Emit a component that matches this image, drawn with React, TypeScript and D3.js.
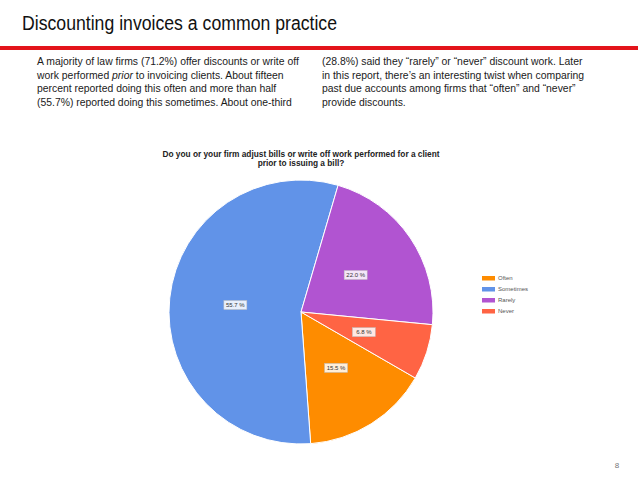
import { useEffect, useRef } from "react"
import * as d3 from "d3"

const categories = ["Often", "Sometimes", "Rarely", "Never"]
const values = [15.5, 55.7, 22.0, 6.8]
const colors = ["#fe8c00", "#6193e8", "#b154d1", "#ff6444"]

const leftLines = [
    "A majority of law firms (71.2%) offer discounts or write off",
    "work performed |prior| to invoicing clients. About fifteen",
    "percent reported doing this often and more than half",
    "(55.7%) reported doing this sometimes. About one-third",
]
const rightLines = [
    "(28.8%) said they \u201crarely\u201d or \u201cnever\u201d discount work.  Later",
    "in this report, there\u2019s an interesting twist when comparing",
    "past due accounts among firms that \u201coften\u201d and \u201cnever\u201d",
    "provide discounts.",
]
const chartTitle = [
    "Do you or your firm adjust bills or write off work performed for a client",
    "prior to issuing a bill?",
]

const App = () => {
    const svgRef = useRef<SVGSVGElement>(null)
    const width = 638
    const height = 479

    useEffect(() => {
        const svg = d3.select(svgRef.current)
        svg.selectAll("*").remove()
        const font = "'Liberation Sans', Arial, sans-serif"

        svg.append("rect").attr("width", width).attr("height", height).attr("fill", "#fff")

        // slide title + red rule
        svg.append("text")
            .attr("x", 22).attr("y", 30)
            .attr("font-family", font).attr("font-size", 19.5)
            .attr("textLength", 315).attr("lengthAdjust", "spacingAndGlyphs")
            .attr("fill", "#111")
            .text("Discounting invoices a common practice")
        svg.append("rect").attr("x", 0).attr("y", 46).attr("width", width).attr("height", 4).attr("fill", "#e3141b")

        // body text columns
        const body = (lines: string[], x: number) => {
            lines.forEach((ln, i) => {
                const t = svg.append("text")
                    .attr("x", x).attr("y", 65 + i * 13.6)
                    .attr("font-family", font).attr("font-size", 10.4)
                    .attr("fill", "#1a1a1a")
                ln.split("|").forEach((part, j) => {
                    t.append("tspan").attr("font-style", j % 2 ? "italic" : "normal").text(part)
                })
            })
        }
        body(leftLines, 37)
        body(rightLines, 322)

        // chart title
        chartTitle.forEach((ln, i) => {
            svg.append("text")
                .attr("x", 301).attr("y", 156.5 + i * 9.5)
                .attr("text-anchor", "middle")
                .attr("font-family", font).attr("font-size", 8.3).attr("font-weight", "bold")
                .attr("fill", "#222")
                .text(ln)
        })

        // pie
        const cx = 301, cy = 312, r = 132
        const startA = (120 * Math.PI) / 180
        const pie = d3.pie<number>().sort(null).startAngle(startA).endAngle(startA + 2 * Math.PI)
        const arcs = pie(values)
        const arc = d3.arc<d3.PieArcDatum<number>>().innerRadius(0).outerRadius(r)
        const labelArc = d3.arc<d3.PieArcDatum<number>>().innerRadius(r * 0.5).outerRadius(r * 0.5)

        const g = svg.append("g").attr("transform", `translate(${cx},${cy})`)
        g.selectAll("path").data(arcs).join("path")
            .attr("d", arc)
            .attr("fill", (_, i) => colors[i])
            .attr("stroke", "#fff").attr("stroke-width", 1)

        arcs.forEach((a) => {
            const [lx, ly] = labelArc.centroid(a)
            const lg = g.append("g").attr("transform", `translate(${lx},${ly})`)
            const label = `${a.data.toFixed(1)} %`
            lg.append("rect")
                .attr("x", -11.5).attr("y", -4.5).attr("width", 23).attr("height", 9)
                .attr("fill", "#fff").attr("fill-opacity", 0.85)
                .attr("stroke", "#bbb").attr("stroke-width", 0.5)
            lg.append("text")
                .attr("text-anchor", "middle").attr("dy", "0.35em")
                .attr("font-family", font).attr("font-size", 6)
                .attr("fill", "#333")
                .text(label)
        })

        // legend
        const legend = svg.append("g").attr("transform", "translate(482,278)")
        categories.forEach((c, i) => {
            const row = legend.append("g").attr("transform", `translate(0,${i * 11})`)
            row.append("rect").attr("x", 0).attr("y", -2).attr("width", 13).attr("height", 4.5).attr("fill", colors[i])
            row.append("text")
                .attr("x", 16).attr("dy", "0.35em")
                .attr("font-family", font).attr("font-size", 6)
                .attr("fill", "#555")
                .text(c)
        })

        // page number
        svg.append("text")
            .attr("x", 617).attr("y", 468)
            .attr("text-anchor", "middle")
            .attr("font-family", font).attr("font-size", 8)
            .attr("fill", "#777")
            .text("8")
    }, [])

    return (
        <svg
            ref={svgRef}
            width={width}
            height={height}
            style={{ position: "fixed", left: 0, top: 0, display: "block" }}
        />
    )
}

export default App
